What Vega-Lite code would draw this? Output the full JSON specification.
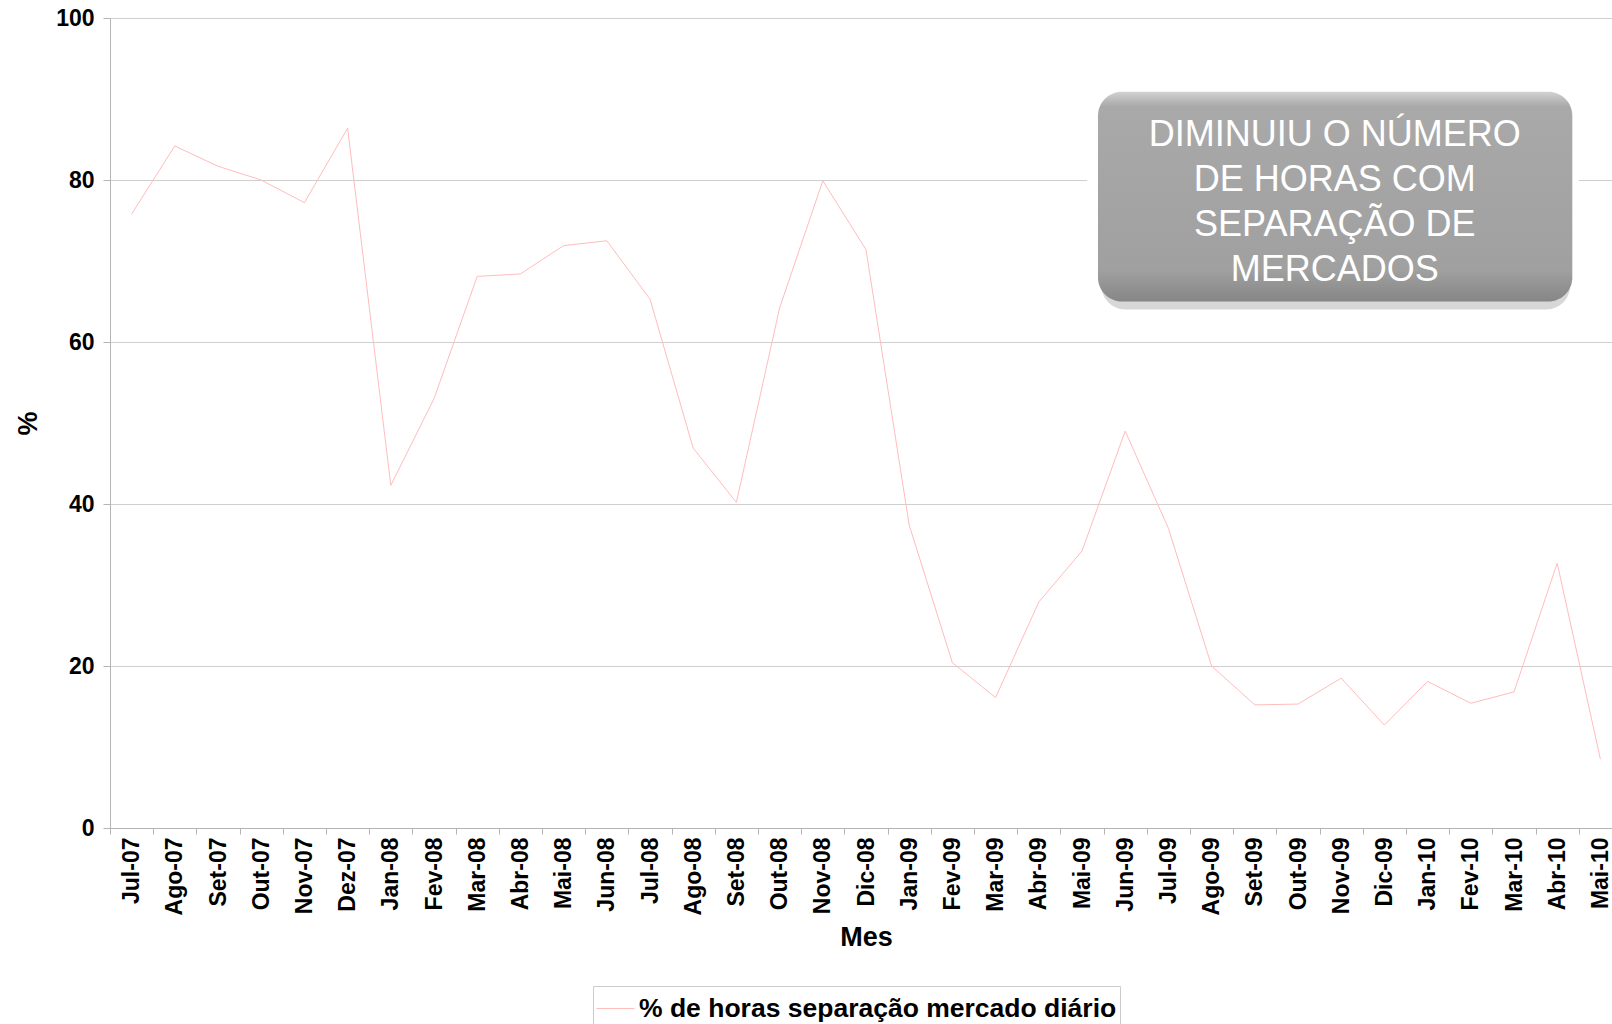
{
  "$schema": "https://vega.github.io/schema/vega-lite/v6.json",
  "autosize": {"type": "none"},
  "width": 1512,
  "height": 810,
  "padding": {"left": 110, "top": 18, "right": 0, "bottom": 196},
  "background": "white",
  "config": {
    "view": {"stroke": null},
    "font": "Liberation Sans"
  },
  "datasets": {
    "serie": [
      {"mes": "Jul-07", "valor": 75.8, "serie": "% de horas separação mercado diário"},
      {"mes": "Ago-07", "valor": 84.2, "serie": "% de horas separação mercado diário"},
      {"mes": "Set-07", "valor": 81.7, "serie": "% de horas separação mercado diário"},
      {"mes": "Out-07", "valor": 80.0, "serie": "% de horas separação mercado diário"},
      {"mes": "Nov-07", "valor": 77.2, "serie": "% de horas separação mercado diário"},
      {"mes": "Dez-07", "valor": 86.4, "serie": "% de horas separação mercado diário"},
      {"mes": "Jan-08", "valor": 42.3, "serie": "% de horas separação mercado diário"},
      {"mes": "Fev-08", "valor": 53.0, "serie": "% de horas separação mercado diário"},
      {"mes": "Mar-08", "valor": 68.1, "serie": "% de horas separação mercado diário"},
      {"mes": "Abr-08", "valor": 68.4, "serie": "% de horas separação mercado diário"},
      {"mes": "Mai-08", "valor": 71.9, "serie": "% de horas separação mercado diário"},
      {"mes": "Jun-08", "valor": 72.5, "serie": "% de horas separação mercado diário"},
      {"mes": "Jul-08", "valor": 65.3, "serie": "% de horas separação mercado diário"},
      {"mes": "Ago-08", "valor": 46.9, "serie": "% de horas separação mercado diário"},
      {"mes": "Set-08", "valor": 40.2, "serie": "% de horas separação mercado diário"},
      {"mes": "Out-08", "valor": 64.2, "serie": "% de horas separação mercado diário"},
      {"mes": "Nov-08", "valor": 79.9, "serie": "% de horas separação mercado diário"},
      {"mes": "Dic-08", "valor": 71.4, "serie": "% de horas separação mercado diário"},
      {"mes": "Jan-09", "valor": 37.4, "serie": "% de horas separação mercado diário"},
      {"mes": "Fev-09", "valor": 20.4, "serie": "% de horas separação mercado diário"},
      {"mes": "Mar-09", "valor": 16.1, "serie": "% de horas separação mercado diário"},
      {"mes": "Abr-09", "valor": 27.9, "serie": "% de horas separação mercado diário"},
      {"mes": "Mai-09", "valor": 34.2, "serie": "% de horas separação mercado diário"},
      {"mes": "Jun-09", "valor": 49.0, "serie": "% de horas separação mercado diário"},
      {"mes": "Jul-09", "valor": 37.0, "serie": "% de horas separação mercado diário"},
      {"mes": "Ago-09", "valor": 20.0, "serie": "% de horas separação mercado diário"},
      {"mes": "Set-09", "valor": 15.2, "serie": "% de horas separação mercado diário"},
      {"mes": "Out-09", "valor": 15.3, "serie": "% de horas separação mercado diário"},
      {"mes": "Nov-09", "valor": 18.5, "serie": "% de horas separação mercado diário"},
      {"mes": "Dic-09", "valor": 12.7, "serie": "% de horas separação mercado diário"},
      {"mes": "Jan-10", "valor": 18.1, "serie": "% de horas separação mercado diário"},
      {"mes": "Fev-10", "valor": 15.4, "serie": "% de horas separação mercado diário"},
      {"mes": "Mar-10", "valor": 16.8, "serie": "% de horas separação mercado diário"},
      {"mes": "Abr-10", "valor": 32.7, "serie": "% de horas separação mercado diário"},
      {"mes": "Mai-10", "valor": 8.5, "serie": "% de horas separação mercado diário"}
    ],
    "nota": [
      {"texto": "DIMINUIU O NÚMERO\nDE HORAS COM\nSEPARAÇÃO DE\nMERCADOS"}
    ]
  },
  "resolve": {"scale": {"x": "independent"}, "axis": {"x": "independent"}},
  "layer": [
    {
      "data": {"name": "serie"},
      "mark": {"type": "line", "strokeWidth": 1},
      "encoding": {
        "x": {
          "field": "mes", "type": "ordinal", "sort": null, "bandPosition": 0.5,
          "scale": {"type": "band", "paddingInner": 0, "paddingOuter": 0},
          "axis": {
            "title": "Mes", "titleFontSize": 27, "titleFontWeight": "bold", "titleColor": "black", "titlePadding": 10,
            "labelAngle": -90, "labelFontSize": 23, "labelFontWeight": "bold", "labelColor": "black", "labelPadding": 3,
            "tickSize": 6, "tickColor": "#b4b4b4", "domainColor": "#b4b4b4", "tickBand": "extent", "grid": false
          }
        },
        "y": {
          "field": "valor", "type": "quantitative",
          "scale": {"domain": [0, 100], "nice": false},
          "axis": {
            "title": "%", "titleFontSize": 27, "titleFontWeight": "bold", "titleColor": "black", "titlePadding": 13,
            "values": [0, 20, 40, 60, 80, 100],
            "labelFontSize": 23, "labelFontWeight": "bold", "labelColor": "black", "labelPadding": 9,
            "tickSize": 7, "tickColor": "#b4b4b4", "domainColor": "#b4b4b4",
            "grid": true, "gridColor": "#cfcfcf", "gridWidth": 1
          }
        },
        "color": {
          "field": "serie", "type": "nominal",
          "scale": {"range": ["#ffbcbc"]},
          "legend": {
            "orient": "none", "legendX": 483, "legendY": 968, "direction": "horizontal",
            "title": null, "symbolType": "stroke", "symbolSize": 1444, "symbolStrokeWidth": 1,
            "labelFontSize": 26.5, "labelFontWeight": "bold", "labelColor": "black", "labelLimit": 0, "labelOffset": 4,
            "strokeColor": "#cccccc", "padding": 3
          }
        }
      }
    },
    {
      "data": {"name": "nota"},
      "mark": {"type": "rect", "color": "white", "cornerRadius": 28},
      "encoding": {
        "x": {"datum": 22.62, "type": "quantitative", "scale": {"domain": [0, 35], "nice": false, "zero": false}, "axis": null},
        "x2": {"datum": 34.0},
        "y": {"datum": 62.8, "type": "quantitative"},
        "y2": {"datum": 92.2}
      }
    },
    {
      "data": {"name": "nota"},
      "mark": {"type": "rect", "color": "#9a9a9a", "opacity": 0.4, "cornerRadius": 24},
      "encoding": {
        "x": {"datum": 22.95, "type": "quantitative", "scale": {"domain": [0, 35], "nice": false, "zero": false}, "axis": null},
        "x2": {"datum": 33.8},
        "y": {"datum": 64.0, "type": "quantitative"},
        "y2": {"datum": 90.0}
      }
    },
    {
      "data": {"name": "nota"},
      "mark": {
        "type": "rect", "cornerRadius": 24,
        "fill": {
          "gradient": "linear", "x1": 0, "y1": 0, "x2": 0, "y2": 1,
          "stops": [
            {"offset": 0, "color": "#d2d2d2"},
            {"offset": 0.07, "color": "#a9a9a9"},
            {"offset": 0.85, "color": "#a0a0a0"},
            {"offset": 1, "color": "#868686"}
          ]
        }
      },
      "encoding": {
        "x": {"datum": 22.87, "type": "quantitative", "scale": {"domain": [0, 35], "nice": false, "zero": false}, "axis": null},
        "x2": {"datum": 33.85},
        "y": {"datum": 65.0, "type": "quantitative"},
        "y2": {"datum": 90.9}
      }
    },
    {
      "data": {"name": "nota"},
      "mark": {
        "type": "text", "color": "white", "font": "Liberation Sans", "fontSize": 36,
        "lineBreak": "\n", "lineHeight": 45.2, "align": "center", "baseline": "middle"
      },
      "encoding": {
        "x": {"datum": 28.35, "type": "quantitative", "scale": {"domain": [0, 35], "nice": false, "zero": false}, "axis": null},
        "y": {"datum": 85.6, "type": "quantitative"},
        "text": {"field": "texto"}
      }
    }
  ]
}
